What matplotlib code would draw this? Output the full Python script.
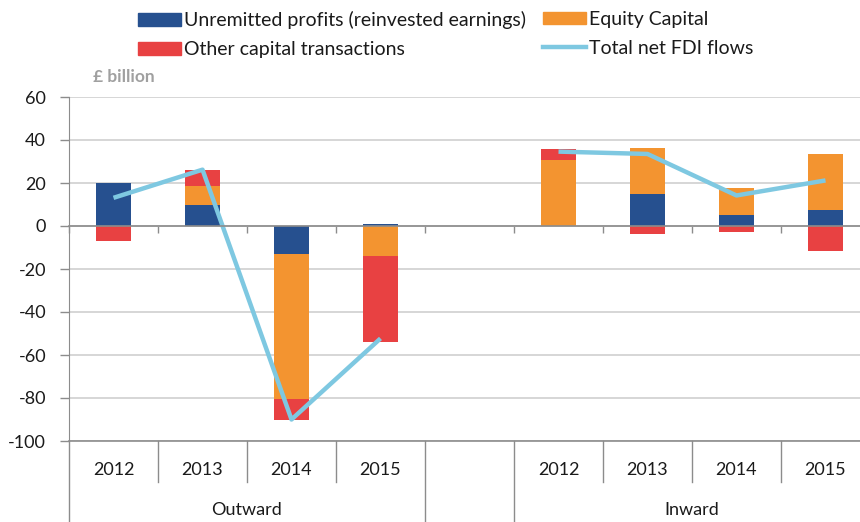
import numpy as np
import matplotlib.pyplot as plt
from matplotlib.patches import Patch
from matplotlib.lines import Line2D

plt.rcParams['font.family'] = ['Lato', 'DejaVu Sans']
plt.rcParams['axes.unicode_minus'] = False

years = ['2012', '2013', '2014', '2015']
groups = ['Outward', 'Inward']

# values for the 4 outward years, then the 4 inward years (£ billion)
unremitted = [20.0, 9.8, -13.1, 0.9, 0.0, 14.9, 5.2, 7.5]
equity = [0.0, 8.8, -67.4, -14.0, 30.5, 21.6, 12.6, 25.9]
other = [-7.2, 7.4, -9.5, -40.0, 5.2, -3.5, -2.8, -11.7]
total = [13.1, 26.2, -90.0, -52.3, 34.6, 33.5, 14.2, 21.2]

c_blue = '#26508F'
c_orange = '#F39430'
c_red = '#E84142'
c_line = '#7EC8E1'
c_axis = '#8C8C8C'

# 9 slots: 4 outward, an empty gap, 4 inward
x = np.array([0, 1, 2, 3, 5, 6, 7, 8])

fig = plt.figure(figsize=(8.6, 5.22), dpi=100)
ax = fig.add_axes([69 / 860, 1 - 441 / 522, 801 / 860, 344 / 522])

pos = np.zeros(len(x))
neg = np.zeros(len(x))
for vals, col in [(unremitted, c_blue), (equity, c_orange), (other, c_red)]:
    v = np.array(vals)
    bottoms = np.where(v >= 0, pos, neg)
    ax.bar(x, v, 0.4, bottom=bottoms, color=col, edgecolor='none', zorder=3)
    pos += np.where(v >= 0, v, 0)
    neg += np.where(v < 0, v, 0)

# line broken between the two groups
lx = np.insert(x.astype(float), 4, 4.0)
ly = np.insert(np.array(total, dtype=float), 4, np.nan)
ax.plot(lx, ly, color=c_line, lw=3.2, zorder=4, solid_capstyle='butt')

ax.set_xlim(-0.5, 8.5)
ax.set_ylim(-100, 60)
ax.set_yticks(np.arange(-100, 61, 20))
ax.tick_params(axis='y', labelsize=13, length=6.5, color=c_axis, width=1, pad=10,
               labelcolor='#1A1A1A')
ax.yaxis.grid(True, color='#D3D3D3', lw=1.3, zorder=0)
ax.set_axisbelow(True)

for s in ['top', 'right']:
    ax.spines[s].set_visible(False)
ax.spines['left'].set_color(c_axis)
ax.spines['bottom'].set_position(('data', 0))
ax.spines['bottom'].set_color(c_axis)
ax.spines['bottom'].set_linewidth(1.2)
ax.spines['bottom'].set_zorder(5)
ax.set_xticks(np.arange(-0.5, 9.0, 1.0))
ax.set_xticklabels([])
ax.tick_params(axis='x', length=5, color=c_axis, width=1)
ax.axhline(-100, color=c_axis, lw=1.2, clip_on=False, zorder=5)

# multi-level category axis below the plot
tr = ax.get_xaxis_transform()
for b in np.arange(-0.5, 9.0, 1.0):
    full = b in (-0.5, 3.5, 4.5)
    ax.plot([b, b], [0, -0.235 if full else -0.119], transform=tr,
            color=c_axis, lw=1, clip_on=False)
for i, xi in enumerate(x):
    ax.text(xi, -0.084, years[i % 4], transform=tr, ha='center', va='center',
            fontsize=13, color='#1A1A1A')
ax.text(1.5, -0.2, groups[0], transform=tr, ha='center', va='center', fontsize=13,
        color='#1A1A1A')
ax.text(6.5, -0.2, groups[1], transform=tr, ha='center', va='center', fontsize=13,
        color='#1A1A1A')

fig.text(93 / 860, 1 - 77 / 522, '£ billion', color='#A0A0A0', fontweight='bold',
         fontsize=12.5, va='center', ha='left')

leg_kw = dict(loc='upper left', frameon=False, fontsize=14, handlelength=2.2,
              handleheight=0.62, handletextpad=0.15, labelspacing=0.62,
              borderpad=0, borderaxespad=0, labelcolor='#1A1A1A')
leg1 = fig.legend([Patch(color=c_blue), Patch(color=c_red)],
                  ['Unremitted profits (reinvested earnings)', 'Other capital transactions'],
                  bbox_to_anchor=(138 / 860, 1 - 11 / 522), **leg_kw)
leg2 = fig.legend([Patch(color=c_orange), Line2D([], [], color=c_line, lw=3.2)],
                  ['Equity Capital', 'Total net FDI flows'],
                  bbox_to_anchor=(543 / 860, 1 - 11 / 522), **leg_kw)

fig.savefig('out.png', dpi=100)
